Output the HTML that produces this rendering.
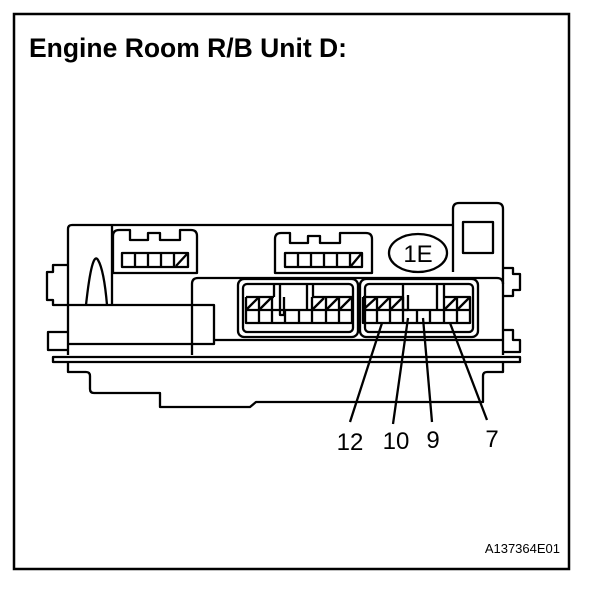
<!DOCTYPE html>
<html><head><meta charset="utf-8"><style>
html,body{margin:0;padding:0;background:#fff;}
svg{display:block;}
</style></head><body>
<svg width="608" height="606" viewBox="0 0 608 606" xmlns="http://www.w3.org/2000/svg">
<rect x="14" y="14" width="555" height="555" fill="none" stroke="#000" stroke-width="2.5"/>
<text x="29" y="57" font-family="Liberation Sans, sans-serif" font-weight="bold" font-size="26.5" fill="#000">Engine Room R/B Unit D:</text>
<g fill="none" stroke="#000" stroke-width="2.3" stroke-linejoin="round">
<path d="M68 355 L68 229 Q68 225 72 225 L453 225"/>
<path d="M453 272 L453 209 Q453 203 459 203 L497 203 Q503 203 503 209 L503 272"/>
<rect x="463" y="222" width="30" height="31"/>
<path d="M68 265 L53 265 L53 272 L47 272 L47 300 L53 300 L53 305 L68 305"/>
<path d="M68 332 L48 332 L48 350 L68 350"/>
<path d="M503 268 L513 268 L513 274 L520 274 L520 290 L513 290 L513 296 L503 296"/>
<path d="M503 330 L513 330 L513 340 L520 340 L520 352 L503 352"/>
<path d="M503 272 L503 355"/>
<path d="M112 225 L112 305"/>
<path d="M68 305 L214 305 L214 344 L68 344"/>
<path d="M86 305 Q92 250 98 260 Q104 270 107 305"/>
<path d="M192 355 L192 284 Q192 278 198 278 L497 278 Q503 278 503 284"/>
<path d="M214 340 L503 340"/>
<path d="M53 357 L520 357 L520 362 L53 362 Z"/>
<path d="M68 362 L68 372 L86 372 Q90 372 90 376 L90 389 Q90 393 94 393 L160 393 L160 407 L250 407 L256 402 L483 402 L483 376 Q483 372 487 372 L503 372 L503 362"/>
<path d="M113 273 L113 236 Q113 230 119 230 L130 230 L130 240 L148 240 L148 233 L160 233 L160 240 L180 240 L180 230 L191 230 Q197 230 197 236 L197 273 Z"/>
<rect x="122" y="253" width="66" height="14"/>
<path d="M135 253V267M148 253V267M161 253V267M174 253V267M176 266L187 254"/>
<path d="M275 273 L275 239 Q275 233 281 233 L290 233 L290 243 L308 243 L308 236 L320 236 L320 243 L340 243 L340 233 L366 233 Q372 233 372 239 L372 273 Z"/>
<rect x="285" y="253" width="77" height="14"/>
<path d="M298 253V267M311 253V267M324 253V267M337 253V267M350 253V267M351 266L361 254"/>
<ellipse cx="418" cy="253" rx="29" ry="19"/>
<rect x="238" y="279" width="120" height="58" rx="6"/>
<rect x="243" y="284" width="110" height="48" rx="4"/>
<path d="M246 297 L246 323 L352 323 L352 297 L313 297 M246 297 L274 297 M246 310 L352 310"/>
<path d="M259 297V323M272 297V323M285 310V323M299 310V323M312 297V323M326 297V323M339 297V323"/>
<path d="M247 309L258 298M260 309L271 298M313 309L324 298M327 309L338 298M340 309L351 298"/>
<path d="M274 297 L274 283 M280 283 L280 315 L284 315 L284 297 M307 283 L307 310 M313 283 L313 297"/>
<rect x="360" y="279" width="118" height="58" rx="6"/>
<rect x="365" y="284" width="108" height="48" rx="4"/>
<path d="M363 297 L363 323 L470 323 L470 297 L444 297 M363 297 L403 297 M363 310 L470 310"/>
<path d="M377 297V323M390 297V323M403 297V323M417 310V323M430 310V323M444 297V323M457 297V323"/>
<path d="M364 309L376 298M378 309L389 298M391 309L402 298M445 309L456 298M458 309L469 298"/>
<path d="M403 283 L403 310 L408 310 L408 295 M437 283 L437 310 M444 283 L444 297"/>
<path d="M382 323 L350 422 M408 318 L393 424 M423 318 L432 422 M450 323 L487 420"/>
</g>
<g font-family="Liberation Sans, sans-serif" fill="#000">
<text x="418" y="262" font-size="24" text-anchor="middle">1E</text>
<text x="350" y="450" font-size="24" text-anchor="middle">12</text>
<text x="396" y="449" font-size="24" text-anchor="middle">10</text>
<text x="433" y="448" font-size="24" text-anchor="middle">9</text>
<text x="492" y="447" font-size="24" text-anchor="middle">7</text>
<text x="560" y="553" font-size="13" text-anchor="end">A137364E01</text>
</g>
</svg>
</body></html>
